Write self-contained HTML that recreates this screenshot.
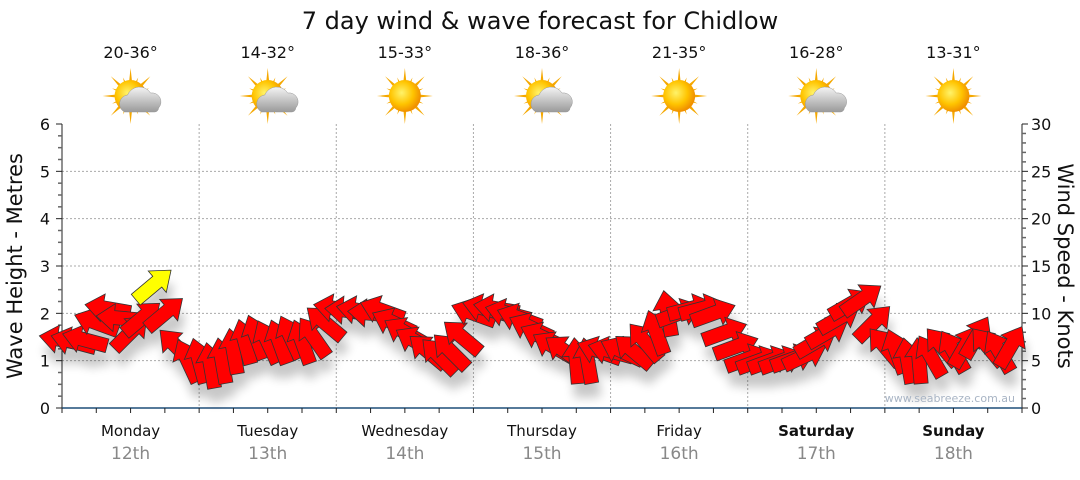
<!DOCTYPE html>
<html><head><meta charset="utf-8"><style>
body{margin:0;background:#fff;width:1080px;height:475px;overflow:hidden;font-family:"Liberation Sans",sans-serif}
svg text{font-family:"DejaVu Sans","Liberation Sans",sans-serif}
</style></head><body>
<svg id="c" width="1080" height="475" viewBox="0 0 1080 475">
<defs>
<filter id="sh" x="-50%" y="-50%" width="200%" height="250%"><feOffset dx="3" dy="14" in="SourceAlpha"/><feGaussianBlur stdDeviation="5"/><feComponentTransfer><feFuncA type="linear" slope="0.22"/></feComponentTransfer></filter>
<radialGradient id="sun" cx="0.4" cy="0.4" r="0.6"><stop offset="0" stop-color="#fff36a"/><stop offset="0.6" stop-color="#ffc400"/><stop offset="1" stop-color="#f09000"/></radialGradient>
<linearGradient id="cl" x1="0" y1="0" x2="0" y2="1"><stop offset="0" stop-color="#f4f4f4"/><stop offset="1" stop-color="#9a9a9a"/></linearGradient>
</defs>
<text x="540" y="29" font-size="24" text-anchor="middle" fill="#111">7 day wind &amp; wave forecast for Chidlow</text>
<g id="icons"></g>
<g id="grid"></g>
<g id="axes"></g>
<g id="shadows" filter="url(#sh)"></g>
<g id="arrows"></g>
<text transform="translate(22,266) rotate(-90)" font-size="21" text-anchor="middle" fill="#111">Wave Height - Metres</text>
<text transform="translate(1058,266) rotate(90)" font-size="21" text-anchor="middle" fill="#111">Wind Speed - Knots</text>
<text x="1015" y="402" font-size="11" text-anchor="end" fill="#a8b4c4">www.seabreeze.com.au</text>
</svg>
<script>
const days=["Monday","Tuesday","Wednesday","Thursday","Friday","Saturday","Sunday"];
const dates=["12th","13th","14th","15th","16th","17th","18th"];
const temps=["20-36°","14-32°","15-33°","18-36°","21-35°","16-28°","13-31°"];
const cloudy=[1,1,0,1,0,1,0];
const waveTicks=[0,1,2,3,4,5,6];
const windTicks=[0,5,10,15,20,25,30];
// wind every 2 hours: speed knots, direction (degrees, 0=right, 90=up)
const windSpeed=[
7.2,7.0,7.2,9,10.5,9.5,8,9.5,13,10,6.5,5,
5,4.5,5,6,7,7.5,7,7,7.5,7,7.5,9,
10.5,10.3,10.3,10,10.3,9,8,7,6,5.5,6,7.5,
10,10.5,10.5,10,9.5,8.5,7.5,6.5,6,5,5,6,
6,6,6,7,8,10,10,10.5,10.5,10,8,6.5,
5.2,5,5,5,5.2,5.5,7,8,9.5,11,11.5,9,
6.5,6,5,5,5.5,6.5,6,6.5,7.5,6.5,6,6.5];
const windDir=[
170,165,165,160,170,175,45,40,40,40,135,115,
105,100,100,100,105,110,115,110,115,110,125,140,
170,175,170,175,160,155,150,150,140,135,135,140,
160,165,170,165,160,155,155,150,145,95,100,160,
165,155,140,130,110,100,20,15,15,20,20,20,
20,20,20,20,20,25,30,30,30,30,35,45,
130,110,100,95,120,130,120,60,60,130,120,60];
const X0=62,X1=1022,Y0=408,Y1=124;
const dayW=(X1-X0)/7;
const yW=v=>Y0-(v/6)*(Y0-Y1);
const yK=v=>Y0-(v/30)*(Y0-Y1);
const xH=h=>X0+h/24*dayW;
const NS="http://www.w3.org/2000/svg";
function mk(tag,attrs,parent,txt){const e=document.createElementNS(NS,tag);for(const k in attrs)e.setAttribute(k,attrs[k]);if(txt!==undefined)e.textContent=txt;parent.appendChild(e);return e;}
const grid=document.getElementById('grid'),axes=document.getElementById('axes'),icons=document.getElementById('icons');
waveTicks.forEach(v=>{if(v>0&&v<6){const l=mk('line',{x1:X0,x2:X1,y1:yW(v),y2:yW(v),stroke:'#aaa','stroke-dasharray':'2,2'},grid);

}});
for(let d=1;d<7;d++){const l=mk('line',{x1:X0+d*dayW,x2:X0+d*dayW,y1:Y1,y2:Y0,stroke:'#aaa','stroke-dasharray':'2,2'},grid);

}
mk('line',{x1:X0,x2:X0,y1:Y1,y2:Y0,stroke:'#222'},axes);
mk('line',{x1:X1,x2:X1,y1:Y1,y2:Y0,stroke:'#222'},axes);
mk('line',{x1:X0,x2:X1,y1:Y0,y2:Y0,stroke:'#1f4e79','stroke-width':1.5},axes);
for(let i=0;i<=24;i++){const y=yW(i/4),maj=i%4==0;
mk('line',{x1:X0-(maj?6:4),x2:X0,y1:y,y2:y,stroke:maj?'#222':'#666','stroke-width':maj?1:1.5},axes);}
for(let i=0;i<=30;i++){const y=yK(i),maj=i%5==0;
mk('line',{x1:X1,x2:X1+(maj?6:4),y1:y,y2:y,stroke:maj?'#222':'#666','stroke-width':maj?1:1.5},axes);}
waveTicks.forEach(v=>{const t=mk('text',{x:X0-12,y:yW(v)+6,'font-size':16,'text-anchor':'end',fill:'#111'},axes,v);

});
windTicks.forEach(v=>{const t=mk('text',{x:X1+9,y:yK(v)+6,'font-size':16,'text-anchor':'start',fill:'#111'},axes,v);

});
for(let i=0;i<=28;i++){const x=X0+i*dayW/4;mk('line',{x1:x,x2:x,y1:Y0,y2:Y0+5,stroke:'#222'},axes);}
days.forEach((d,i)=>{const cx=X0+(i+0.5)*dayW;const bold=i>=5;
const t=mk('text',{x:cx,y:436,'font-size':15,'text-anchor':'middle',fill:'#111','font-weight':bold?'bold':'normal'},axes,d);


const t2=mk('text',{x:cx,y:459,'font-size':17,'text-anchor':'middle',fill:'#888'},axes,dates[i]);


const t3=mk('text',{x:cx,y:58,'font-size':16,'text-anchor':'middle',fill:'#111'},icons,temps[i]);


const g=mk('g',{transform:`translate(${cx},96)`},icons);


for(let r=0;r<16;r++){const a=r*22.5,len=r%2?20:28;mk('polygon',{points:`-3,0 3,0 0,-${len}`,fill:'#f5a800',transform:`rotate(${a})`},g);}
mk('circle',{cx:0,cy:0,r:16,fill:'url(#sun)'},g);
if(cloudy[i]){mk('path',{d:'M-6,16 a9,9 0 0 1 3,-17 a13,13 0 0 1 23,-2 a9,9 0 0 1 8,15 a4,4 0 0 1 -4,4 z',fill:'url(#cl)',stroke:'#999','stroke-width':0.5},g);}
});
const shadows=document.getElementById('shadows'),arrows=document.getElementById('arrows');
const AP='M-23,-7 L5,-7 L5,-14 L23,0 L5,14 L5,7 L-23,7 Z';
windSpeed.forEach((s,i)=>{const x=xH(i*2),y=yK(s),a=-windDir[i];
mk('path',{d:AP,fill:'#000',transform:`translate(${x},${y}) rotate(${a})`},shadows);
const p=mk('path',{d:AP,fill:i==8?'#ffff00':'#ff0000',stroke:'#333','stroke-width':0.8,transform:`translate(${x},${y}) rotate(${a})`},arrows);

});
</script>
</body></html>
